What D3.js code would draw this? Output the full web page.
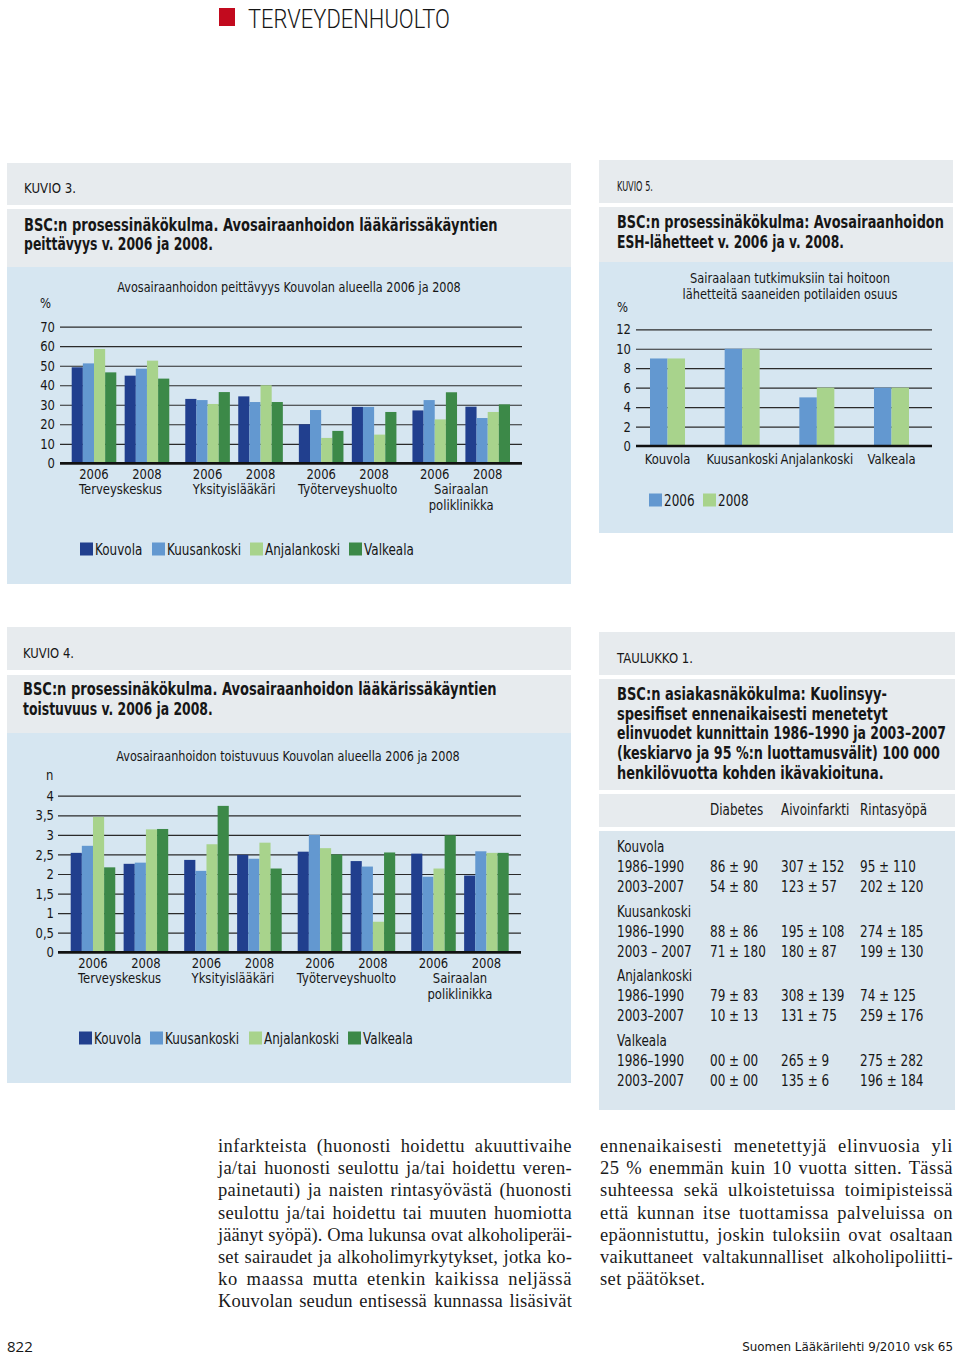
<!DOCTYPE html>
<html><head><meta charset="utf-8">
<script src="https://cdn.jsdelivr.net/npm/d3@7"></script>
<style>
html,body{margin:0;padding:0;background:#fff;}
svg{display:block;}
text{font-family:"DejaVu Sans",sans-serif;fill:#161616;}
text.serif{font-family:"Liberation Serif","DejaVu Serif",serif;fill:#1a1a1a;}
</style></head><body>
<svg id="page" width="960" height="1356"></svg>
<script>
// ---------- DATA ----------
const seriesNames = ["Kouvola","Kuusankoski","Anjalankoski","Valkeala"];
const years = ["2006","2008"];
const careCategories = [["Terveyskeskus"],["Yksityislääkäri"],["Työterveyshuolto"],["Sairaalan","poliklinikka"]];

// Kuvio 3 (%), order: category x year
const k3Kouvola      = [49.2, 44.9, 33.0, 34.3, 20.0, 28.9, 27.1, 29.0];
const k3Kuusankoski  = [51.2, 48.5, 32.4, 31.4, 27.3, 28.9, 32.4, 23.2];
const k3Anjalankoski = [58.6, 52.6, 30.4, 40.0, 13.0, 14.7, 22.5, 26.3];
const k3Valkeala     = [46.6, 43.4, 36.5, 31.4, 16.6, 26.3, 36.4, 30.2];
const k3Ticks = [0,10,20,30,40,50,60,70];

// Kuvio 4 (n)
const k4Kouvola      = [2.54, 2.26, 2.36, 2.49, 2.57, 2.33, 2.52, 1.96];
const k4Kuusankoski  = [2.72, 2.29, 2.08, 2.39, 3.00, 2.19, 1.93, 2.58];
const k4Anjalankoski = [3.46, 3.14, 2.76, 2.80, 2.66, 0.78, 2.14, 2.54];
const k4Valkeala     = [2.17, 3.15, 3.74, 2.14, 2.50, 2.55, 2.99, 2.54];
const k4Ticks = [0,0.5,1,1.5,2,2.5,3,3.5,4];

// Kuvio 5 (%)
const k5Categories = ["Kouvola","Kuusankoski","Anjalankoski","Valkeala"];
const k5Values2006 = [9, 10, 5, 6];
const k5Values2008 = [9, 10, 6, 6];
const k5Ticks = [0,2,4,6,8,10,12];

// Taulukko 1
const tableColumns = ["Diabetes","Aivoinfarkti","Rintasyöpä"];
const tableTowns = ["Kouvola","Kuusankoski","Anjalankoski","Valkeala"];
const tablePeriods = ["1986–1990","2003–2007","1986–1990","2003 – 2007","1986–1990","2003–2007","1986–1990","2003–2007"];
const tableDiabetes = ["86 ± 90","54 ± 80","88 ± 86","71 ± 180","79 ± 83","10 ± 13","00 ± 00","00 ± 00"];
const tableAivoinfarkti = ["307 ± 152","123 ± 57","195 ± 108","180 ± 87","308 ± 139","131 ± 75","265 ± 9","135 ± 6"];
const tableRintasyopa = ["95 ± 110","202 ± 120","274 ± 185","199 ± 130","74 ± 125","259 ± 176","275 ± 282","196 ± 184"];

const leftText = [
 "infarkteista (huonosti hoidettu akuuttivaihe",
 "ja/tai huonosti seulottu ja/tai hoidettu veren-",
 "painetauti) ja naisten rintasyövästä (huonosti",
 "seulottu ja/tai hoidettu tai muuten huomiotta",
 "jäänyt syöpä). Oma lukunsa ovat alkoholiperäi-",
 "set sairaudet ja alkoholimyrkytykset, jotka ko-",
 "ko maassa mutta etenkin kaikissa neljässä",
 "Kouvolan seudun entisessä kunnassa lisäsivät"];
const rightText = [
 "ennenaikaisesti menetettyjä elinvuosia yli",
 "25 % enemmän kuin 10 vuotta sitten. Tässä",
 "suhteessa sekä ulkoistetuissa toimipisteissä",
 "että kunnan itse tuottamissa palveluissa on",
 "epäonnistuttu, joskin tuloksiin ovat osaltaan",
 "vaikuttaneet valtakunnalliset alkoholipoliitti-",
 "set päätökset."];

// ---------- STYLE ----------
const colors = ["#213f8e","#6398d0","#a8d38c","#3c8948"];
const gray = "#e7ebee", blue = "#d6e6f1";
const CONDENSE = 0.8;

const svg = d3.select("#page");

function txt(g, x, y, s, o={}) {
  const gg = g.append("g").attr("transform", `translate(${x},${y})`);
  const t = gg.append("text").attr("x", 0).attr("y", 0).text(s)
    .attr("font-size", o.size || 14)
    .attr("font-weight", o.weight || "normal")
    .attr("text-anchor", o.anchor || "start");
  if (o.cls) t.attr("class", o.cls);
  if (o.family) t.style("font-family", o.family);
  let sx = o.sx !== undefined ? o.sx : CONDENSE;
  if (o.width) sx = o.width / t.node().getComputedTextLength();
  if (sx !== 1) t.attr("transform", `scale(${sx},1)`);
  return t;
}
function rect(x,y,w,h,fill){ svg.append("rect").attr("x",x).attr("y",y).attr("width",w).attr("height",h).attr("fill",fill); }
function condenseTicks(ag) {
  ag.selectAll(".tick text").each(function(){
    const x = +this.getAttribute("x");
    this.setAttribute("x", 0);
    this.setAttribute("transform", `translate(${x},0) scale(${CONDENSE},1)`);
  });
}

// ---------- PAGE HEADER ----------
rect(219, 8, 16, 18, "#c20a1e");
txt(svg, 248, 28, "TERVEYDENHUOLTO", {size: 26, weight: 300, family: "Roboto, 'Open Sans', sans-serif", width: 202});

// ---------- PANELS ----------
rect(7,163,564,42,gray); rect(7,209,564,58,gray); rect(7,267,564,317,blue);
rect(599,160,354,43,gray); rect(599,207,354,55,gray); rect(599,262,354,271,blue);
rect(7,627,564,43,gray); rect(7,675,564,58,gray); rect(7,733,564,350,blue);
rect(599,632,356,43,gray); rect(599,679,356,111,gray); rect(599,794,356,33,gray); rect(599,831,356,279,"#dae6ee");

// ---------- GROUPED CHART ----------
function groupedChart(cfg) {
  const g = svg.append("g");
  const y = d3.scaleLinear().domain([0, cfg.yMax]).range([cfg.yBottom, cfg.yTop]);
  const x0 = d3.scaleBand().domain(d3.range(careCategories.length)).range([cfg.xStart, cfg.xEnd]).paddingInner(cfg.catPad).paddingOuter(0);
  const x1 = d3.scaleBand().domain(years).range([0, x0.bandwidth()]).paddingInner(cfg.yearPad);
  const x2 = d3.scaleBand().domain(seriesNames).range([0, x1.bandwidth()]);
  const axis = d3.axisLeft(y).tickValues(cfg.ticks).tickSize(-(cfg.gridEnd - cfg.gridStart)).tickPadding(cfg.tickPad).tickFormat(cfg.fmt);
  const ag = g.append("g").attr("transform", `translate(${cfg.gridStart},0)`).call(axis);
  ag.select(".domain").remove();
  ag.selectAll(".tick line").attr("stroke", "#2a2a2a").attr("stroke-width", 1.2);
  ag.selectAll(".tick text").attr("font-size", 14.5).attr("fill", "#161616");
  condenseTicks(ag);
  const data = [];
  careCategories.forEach((c, i) => years.forEach((yr, j) => seriesNames.forEach((s, k) => {
    data.push({i, yr, s, k, v: cfg.series[k][i * 2 + j]});
  })));
  g.append("g").selectAll("rect").data(data).join("rect")
    .attr("x", d => x0(d.i) + x1(d.yr) + x2(d.s))
    .attr("width", x2.bandwidth())
    .attr("y", d => y(d.v))
    .attr("height", d => y(0) - y(d.v))
    .attr("fill", d => colors[d.k]);
  g.append("line").attr("x1", cfg.gridStart).attr("x2", cfg.gridEnd).attr("y1", y(0)).attr("y2", y(0))
    .attr("stroke", "#111").attr("stroke-width", 2.6);
  careCategories.forEach((c, i) => {
    years.forEach(yr => txt(g, x0(i) + x1(yr) + x1.bandwidth() / 2, cfg.yearY, yr, {size: 14.5, anchor: "middle"}));
    c.forEach((line, li) => txt(g, x0(i) + x0.bandwidth() / 2, cfg.catY + li * 16, line, {size: 14.5, anchor: "middle"}));
  });
  // legend
  seriesNames.forEach((s, k) => {
    g.append("rect").attr("x", cfg.legendX[k]).attr("y", cfg.legendY - 6.5).attr("width", 13).attr("height", 13).attr("fill", colors[k]);
    txt(g, cfg.legendX[k] + 15, cfg.legendY + 5.5, s, {size: 15});
  });
  return g;
}

// Kuvio 3
txt(svg, 24, 193, "KUVIO 3.", {size: 14.5, width: 52});
txt(svg, 24, 231, "BSC:n prosessinäkökulma. Avosairaanhoidon lääkärissäkäyntien", {size: 17, weight: "bold", width: 474});
txt(svg, 24, 250, "peittävyys v. 2006 ja 2008.", {size: 17, weight: "bold", width: 189});
txt(svg, 289, 292, "Avosairaanhoidon peittävyys Kouvolan alueella 2006 ja 2008", {size: 14.5, anchor: "middle", width: 344});
txt(svg, 40, 308, "%", {size: 14.5});
groupedChart({yMax: 70, yBottom: 463.3, yTop: 326.7, xStart: 71.7, xEnd: 510, catPad: 0.141, yearPad: 0.158,
  gridStart: 60, gridEnd: 522, tickPad: 5, ticks: k3Ticks, fmt: d => d,
  series: [k3Kouvola, k3Kuusankoski, k3Anjalankoski, k3Valkeala],
  yearY: 479, catY: 494, legendX: [80, 152, 250, 349], legendY: 549});

// Kuvio 4
txt(svg, 23, 658, "KUVIO 4.", {size: 14.5, width: 51});
txt(svg, 23, 695, "BSC:n prosessinäkökulma. Avosairaanhoidon lääkärissäkäyntien", {size: 17, weight: "bold", width: 474});
txt(svg, 23, 715, "toistuvuus v. 2006 ja 2008.", {size: 17, weight: "bold", width: 190});
txt(svg, 288, 761, "Avosairaanhoidon toistuvuus Kouvolan alueella 2006 ja 2008", {size: 14.5, anchor: "middle", width: 344});
txt(svg, 46, 780, "n", {size: 14.5});
groupedChart({yMax: 4, yBottom: 952.3, yTop: 795.7, xStart: 70.7, xEnd: 508.7, catPad: 0.141, yearPad: 0.158,
  gridStart: 58, gridEnd: 521, tickPad: 4, ticks: k4Ticks, fmt: d => String(d).replace(".", ","),
  series: [k4Kouvola, k4Kuusankoski, k4Anjalankoski, k4Valkeala],
  yearY: 968, catY: 983, legendX: [79, 150, 249, 348], legendY: 1038});

// Kuvio 5
(function(){
  const g = svg.append("g");
  txt(g, 617, 191, "KUVIO 5.", {size: 14, width: 36});
  txt(g, 617, 228, "BSC:n prosessinäkökulma: Avosairaanhoidon", {size: 17, weight: "bold", width: 327});
  txt(g, 617, 248, "ESH-lähetteet v. 2006 ja v. 2008.", {size: 17, weight: "bold", width: 227});
  txt(g, 790, 283, "Sairaalaan tutkimuksiin tai hoitoon", {size: 14.5, anchor: "middle", width: 200});
  txt(g, 790, 299, "lähetteitä saaneiden potilaiden osuus", {size: 14.5, anchor: "middle", width: 215});
  txt(g, 617, 312, "%", {size: 14.5});
  const y = d3.scaleLinear().domain([0, 12]).range([446, 329.3]);
  const x0 = d3.scaleBand().domain(k5Categories).range([650, 909]).paddingInner(0.531).paddingOuter(0);
  const x1 = d3.scaleBand().domain(years).range([0, x0.bandwidth()]);
  const ag = g.append("g").attr("transform", "translate(636,0)")
    .call(d3.axisLeft(y).tickValues(k5Ticks).tickSize(-(932 - 636)).tickPadding(5));
  ag.select(".domain").remove();
  ag.selectAll(".tick line").attr("stroke", "#2a2a2a").attr("stroke-width", 1.2);
  ag.selectAll(".tick text").attr("font-size", 14.5).attr("fill", "#161616");
  condenseTicks(ag);
  const vals = [k5Values2006, k5Values2008];
  const data = [];
  k5Categories.forEach((c, i) => years.forEach((yr, j) => data.push({c, yr, j, v: vals[j][i]})));
  g.append("g").selectAll("rect").data(data).join("rect")
    .attr("x", d => x0(d.c) + x1(d.yr)).attr("width", x1.bandwidth())
    .attr("y", d => y(d.v)).attr("height", d => y(0) - y(d.v))
    .attr("fill", d => d.j === 0 ? colors[1] : colors[2]);
  g.append("line").attr("x1", 636).attr("x2", 932).attr("y1", y(0)).attr("y2", y(0)).attr("stroke", "#111").attr("stroke-width", 2.6);
  k5Categories.forEach(c => txt(g, x0(c) + x0.bandwidth() / 2, 464, c, {size: 14.5, anchor: "middle"}));
  [649, 703].forEach((lx, j) => {
    g.append("rect").attr("x", lx).attr("y", 493.5).attr("width", 13).attr("height", 13).attr("fill", j === 0 ? colors[1] : colors[2]);
    txt(g, lx + 15, 505.5, years[j], {size: 15});
  });
})();

// Taulukko 1
(function(){
  const g = svg.append("g");
  txt(g, 617, 663, "TAULUKKO 1.", {size: 14.5, width: 76});
  const tl = [["BSC:n asiakasnäkökulma: Kuolinsyy-",270],["spesifiset ennenaikaisesti menetetyt",271],
    ["elinvuodet kunnittain 1986–1990 ja 2003–2007",329],["(keskiarvo ja 95 %:n luottamusvälit) 100 000",323],
    ["henkilövuotta kohden ikävakioituna.",267]];
  tl.forEach((l, i) => txt(g, 617, 700 + i * 19.7, l[0], {size: 17, weight: "bold", width: l[1]}));
  const colX = [710, 781, 860];
  tableColumns.forEach((c, i) => txt(g, colX[i], 815, c, {size: 15}));
  const cols = [tableDiabetes, tableAivoinfarkti, tableRintasyopa];
  tableTowns.forEach((t, ti) => {
    const base = 852 + ti * 64.7;
    txt(g, 617, base, t, {size: 15});
    [0, 1].forEach(r => {
      const idx = ti * 2 + r, yy = base + 20 + r * 20;
      txt(g, 617, yy, tablePeriods[idx], {size: 15});
      cols.forEach((col, ci) => txt(g, colX[ci], yy, col[idx], {size: 15}));
    });
  });
})();

// ---------- BODY TEXT ----------
function justified(lines, x0, x1, y0, lastJustified) {
  lines.forEach((l, i) => {
    const t = txt(svg, x0, y0 + i * 22.2, l, {size: 18.5, cls: "serif", sx: 1});
    const isLast = i === lines.length - 1;
    if (isLast && !lastJustified) { t.attr("letter-spacing", 0.4); return; }
    const target = x1 - x0;
    let w = t.node().getComputedTextLength();
    if (w < target) {
      const ls = Math.min(0.7, (target - w) * 0.6 / l.length);
      t.attr("letter-spacing", ls);
      w = t.node().getComputedTextLength();
    }
    const spaces = (l.match(/ /g) || []).length;
    if (w < target && spaces > 0) t.attr("word-spacing", (target - w) / spaces);
    else t.attr("transform", `scale(${target / w},1)`);
  });
}
justified(leftText, 218, 572, 1152, true);
justified(rightText, 600, 953, 1152, false);

// ---------- FOOTER ----------
txt(svg, 7, 1352, "822", {size: 15, family: "'Open Sans', sans-serif", sx: 1});
txt(svg, 953, 1351, "Suomen Lääkärilehti 9/2010 vsk 65", {size: 12, anchor: "end", family: "'DejaVu Sans', sans-serif", width: 211});
</script>
</body></html>
